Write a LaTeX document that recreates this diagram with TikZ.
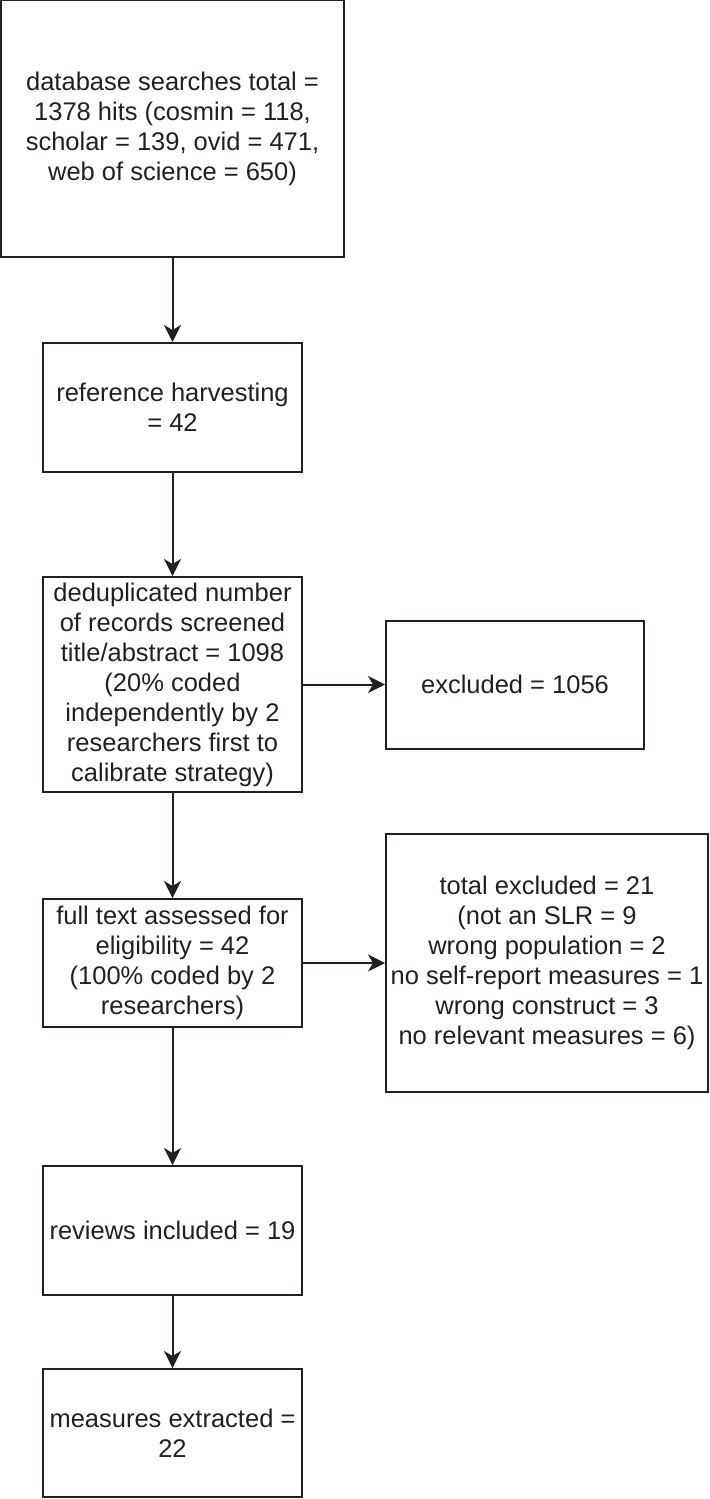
\documentclass[tikz,border=0pt]{standalone}
\usepackage{fontspec}
\setmainfont{Liberation Sans}
\usetikzlibrary{arrows.meta}
\definecolor{inkgray}{RGB}{35,31,32}
\begin{document}
\begin{tikzpicture}[x=0.5pt, y=-0.5pt,
    box/.style={draw=inkgray, text=inkgray, line width=1pt, inner sep=0pt,
                align=center, font=\fontsize{12.75}{15}\selectfont},
    flow/.style={draw=inkgray, line width=1pt,
                 -{Stealth[length=8.5pt, width=8.5pt, inset=2.5pt]}}]
            \useasboundingbox (0,0) rectangle (709,1499);

            % Main column
            \node[box, minimum width=171.5pt, minimum height=128.5pt] (search) at (172.5,128.5)
                {database searches total =\\1378 hits (cosmin = 118,\\scholar = 139, ovid = 471,\\web of science = 650)};
            \node[box, minimum width=129.5pt, minimum height=64.5pt] (harvest) at (172.5,407.5)
                {reference harvesting\\= 42};
            \node[box, minimum width=129.5pt, minimum height=107.5pt] (screen) at (172.5,684.5)
                {deduplicated number\\of records screened\\title/abstract = 1098\\(20\% coded\\independently by 2\\researchers first to\\calibrate strategy)};
            \node[box, minimum width=129.5pt, minimum height=64pt] (fulltext) at (172.5,963)
                {full text assessed for\\eligibility = 42\\(100\% coded by 2\\researchers)};
            \node[box, minimum width=129.5pt, minimum height=64.5pt] (included) at (172.5,1230.5)
                {reviews included = 19};
            \node[box, minimum width=129.5pt, minimum height=64pt] (extracted) at (172.5,1433)
                {measures extracted =\\22};

            % Exclusions
            \node[box, minimum width=129pt, minimum height=64pt] (excl) at (515,684.5)
                {excluded = 1056};
            \node[box, minimum width=161pt, minimum height=129pt] (totexcl) at (547,963)
                {total excluded = 21\\(not an SLR = 9\\wrong population = 2\\no self-report measures = 1\\wrong construct = 3\\no relevant measures = 6)};

            % Arrows
            \draw[flow] (search) -- (harvest);
            \draw[flow] (harvest) -- (screen);
            \draw[flow] (screen) -- (fulltext);
            \draw[flow] (fulltext) -- (included);
            \draw[flow] (included) -- (extracted);
            \draw[flow] (screen) -- (excl);
            \draw[flow] (fulltext) -- (totexcl);
        \end{tikzpicture}
\end{document}
